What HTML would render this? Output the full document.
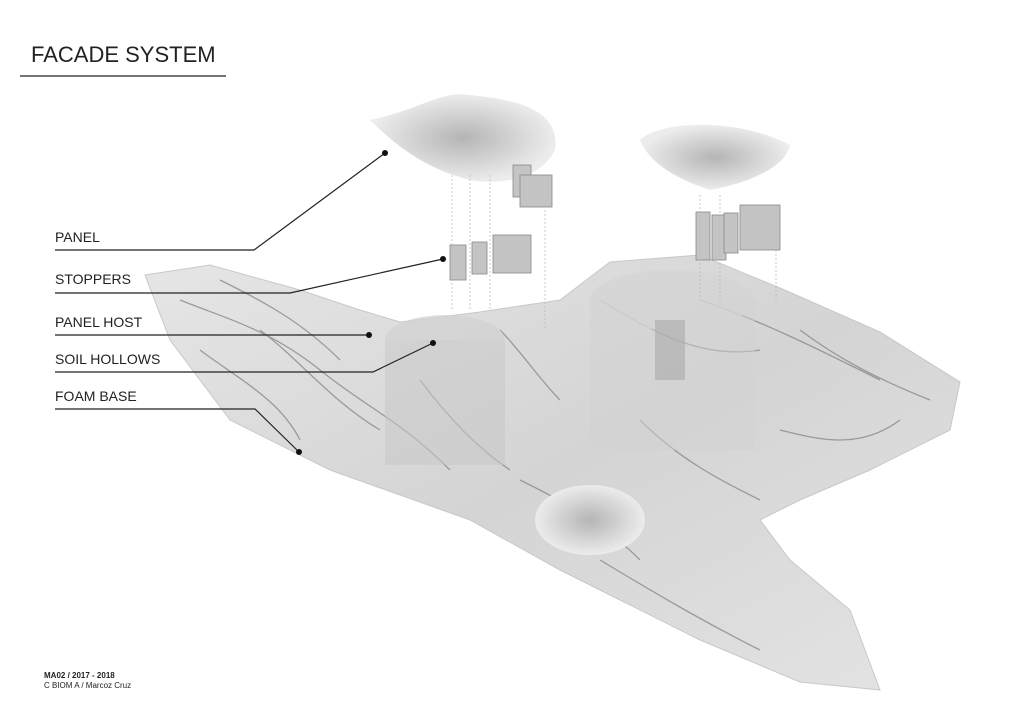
<!DOCTYPE html>
<html><head><meta charset="utf-8"><style>
html,body{margin:0;padding:0;background:#fff;}
body{width:1024px;height:724px;overflow:hidden;position:relative;font-family:"Liberation Sans",sans-serif;}
.t{position:absolute;color:#222;}
</style></head><body>
<svg width="1024" height="724" style="position:absolute;left:0;top:0">
<defs>
<linearGradient id="g1" x1="0" y1="0" x2="1" y2="1"><stop offset="0" stop-color="#e6e6e6"/><stop offset="0.5" stop-color="#d4d4d4"/><stop offset="1" stop-color="#e4e4e4"/></linearGradient>
<radialGradient id="sh" cx="0.5" cy="0.5" r="0.5"><stop offset="0" stop-color="#b5b5b5"/><stop offset="1" stop-color="#ececec"/></radialGradient>
</defs>
<path d="M145,275 L210,265 L300,290 L360,310 L400,322 L480,312 L560,300 L610,262 L700,255 L780,288 L880,332 L960,382 L950,430 L870,470 L800,500 L760,520 L790,560 L850,610 L880,690 L800,682 L700,640 L620,600 L560,570 L470,520 L330,470 L230,420 L170,340 Z" fill="url(#g1)" stroke="#c8c8c8"/>
<g stroke="#8a8a8a" stroke-width="1.3" fill="none" opacity="0.8">
<path d="M180,300 C230,320 270,330 320,370 S400,420 450,470"/>
<path d="M220,280 C260,300 300,320 340,360"/>
<path d="M260,330 C300,360 330,400 380,430"/>
<path d="M600,300 C650,330 700,360 760,350"/>
<path d="M700,300 C760,320 820,350 880,380"/>
<path d="M520,480 C560,500 600,520 640,560"/>
<path d="M600,560 C650,590 700,620 760,650"/>
<path d="M420,380 C450,420 480,450 510,470"/>
<path d="M780,430 C820,440 860,450 900,420"/>
<path d="M200,350 C240,380 280,400 300,440"/>
<path d="M640,420 C680,460 720,480 760,500"/>
<path d="M800,330 C840,360 880,380 930,400"/>
<path d="M500,330 C520,350 540,380 560,400"/>
</g>
<rect x="385" y="340" width="120" height="125" fill="#c8c8c8" opacity="0.55"/>
<ellipse cx="445" cy="340" rx="60" ry="25" fill="#d2d2d2" opacity="0.7"/>
<rect x="590" y="300" width="165" height="150" fill="#d2d2d2" opacity="0.5"/>
<ellipse cx="672" cy="300" rx="82" ry="30" fill="#d4d4d4" opacity="0.7"/>
<rect x="655" y="320" width="30" height="60" fill="#aaa" opacity="0.6"/>
<ellipse cx="590" cy="520" rx="55" ry="35" fill="url(#sh)"/>
<path d="M370,120 C420,110 440,90 470,95 C520,100 560,110 555,150 C540,180 500,185 470,180 C430,170 400,150 370,120 Z" fill="url(#sh)"/>
<path d="M640,140 C660,120 740,118 790,145 C785,170 740,185 710,190 C680,180 650,165 640,140 Z" fill="url(#sh)"/>
<g fill="#c4c4c4" stroke="#888" stroke-width="0.8">
<rect x="513" y="165" width="18" height="32"/><rect x="520" y="175" width="32" height="32"/>
<rect x="450" y="245" width="16" height="35"/><rect x="472" y="242" width="15" height="32"/><rect x="493" y="235" width="38" height="38"/>
<rect x="696" y="212" width="14" height="48"/><rect x="712" y="215" width="14" height="45"/><rect x="724" y="213" width="14" height="40"/><rect x="740" y="205" width="40" height="45"/>
</g>
<g stroke="#bbb" stroke-dasharray="2,2" stroke-width="0.8">
<line x1="452" y1="175" x2="452" y2="310"/><line x1="470" y1="175" x2="470" y2="310"/><line x1="490" y1="175" x2="490" y2="310"/><line x1="545" y1="210" x2="545" y2="330"/>
<line x1="700" y1="195" x2="700" y2="300"/><line x1="720" y1="195" x2="720" y2="300"/><line x1="776" y1="250" x2="776" y2="300"/>
</g>
<g stroke="#222" stroke-width="1.2" fill="none">
<line x1="20" y1="76" x2="226" y2="76"/>
<polyline points="55,250 254,250 385,153"/>
<polyline points="55,293 290,293 443,259"/>
<polyline points="55,335 369,335"/>
<polyline points="55,372 373,372 433,343"/>
<polyline points="55,409 255,409 299,452"/>
</g>
<g fill="#111"><circle cx="385" cy="153" r="3"/><circle cx="443" cy="259" r="3"/><circle cx="369" cy="335" r="3"/><circle cx="433" cy="343" r="3"/><circle cx="299" cy="452" r="3"/></g>
</svg>
<div class="t" style="left:31px;top:42px;font-size:22px;">FACADE SYSTEM</div>
<div class="t" style="left:55px;top:229px;font-size:14px;">PANEL</div>
<div class="t" style="left:55px;top:271px;font-size:14px;">STOPPERS</div>
<div class="t" style="left:55px;top:314px;font-size:14px;">PANEL HOST</div>
<div class="t" style="left:55px;top:351px;font-size:14px;">SOIL HOLLOWS</div>
<div class="t" style="left:55px;top:388px;font-size:14px;">FOAM BASE</div>
<div class="t" style="left:44px;top:671px;font-size:8px;font-weight:bold;">MA02 / 2017 - 2018</div>
<div class="t" style="left:44px;top:681px;font-size:8px;">C BIOM A / Marcoz Cruz</div>
</body></html>
